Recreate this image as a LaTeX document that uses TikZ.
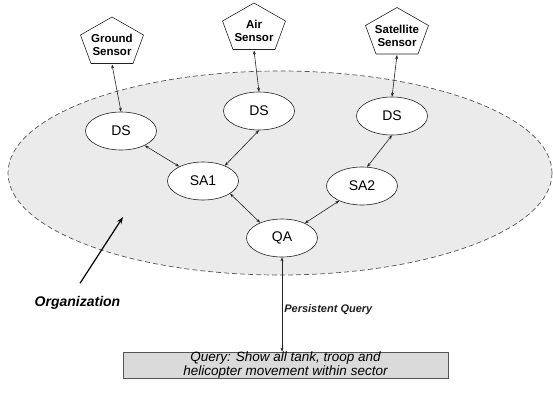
\documentclass[tikz,border=0pt]{standalone}
\usepackage{fontspec}
\setmainfont{Liberation Sans}
\usepackage{tikz}
\usetikzlibrary{arrows.meta,calc,positioning,shapes.geometric}
\definecolor{OrgFill}{HTML}{EBEBEB}
\definecolor{OrgEdge}{HTML}{555555}
\definecolor{QueryFill}{HTML}{DADADA}
\definecolor{LinkGray}{HTML}{222222}
\tikzset{
  agent/.style={ellipse,draw=LinkGray,fill=white,line width=0.6pt,minimum width=71pt,minimum height=38pt,inner sep=0pt,font=\fontsize{14}{16}\selectfont},
  sensor/.style={align=center,inner sep=0pt,font=\bfseries\fontsize{11.5}{13}\selectfont},
  penta/.style={draw=LinkGray,line width=0.6pt,line join=miter},
  link/.style={{Stealth[length=4pt,width=3pt]}-{Stealth[length=4pt,width=3pt]},line width=0.6pt,LinkGray},
  orgzone/.style={draw=OrgEdge,fill=OrgFill,line width=0.7pt,dash pattern=on 5pt off 3pt},
  querybox/.style={draw=OrgEdge,fill=QueryFill,line width=0.7pt,minimum width=325pt,minimum height=26pt,inner sep=0pt,align=center,font=\itshape\fontsize{13.5}{12}\selectfont},
}

\begin{document}
\begin{tikzpicture}[x=1pt,y=-1pt]
  \useasboundingbox (0,0) rectangle (553,392);
  % --- organization (dashed zone) ---
  \draw[orgzone] (280,173) ellipse [x radius=272, y radius=102];
  \node[font=\bfseries\itshape\fontsize{14}{16}\selectfont,inner sep=0pt] (org) at (77.5,303) {Organization};
  \coordinate (orgtip) at (123,217);
  \draw[-{Stealth[length=7pt,width=5pt]},line width=1.2pt,black] ([xshift=2.5pt,yshift=13pt]org.north) -- (orgtip);
  % --- sensors ---
  \node[sensor] (gs) at (112,45) {Ground\\Sensor};
  \node[sensor] (as) at (254,31) {Air\\Sensor};
  \node[sensor] (ss) at (397,35.5) {Satellite\\Sensor};
  \foreach \s in {gs,as,ss}{
    \draw[penta] ($(\s)+(0,-28)$) -- ($(\s)+(31.5,-10)$) -- ($(\s)+(21,18.5)$)
      -- ($(\s)+(-21,18.5)$) -- ($(\s)+(-31.5,-10)$) -- cycle;
    \coordinate (\s-b) at ($(\s)+(0,19.5)$);
  }
  % --- agents ---
  \node[agent] (ds1) at (121,131) {DS};
  \node[agent] (ds2) at (259,111) {DS};
  \node[agent] (ds3) at (392,116) {DS};
  \node[agent] (sa1) at (203,181) {SA1};
  \node[agent] (sa2) at (362,186) {SA2};
  \node[agent] (qa) at (282,238) {QA};
  % --- query ---
  \node[querybox] (query) at (285.5,365) {Query: Show all tank, troop and\\helicopter movement within sector};
  % --- links ---
  \draw[link] (gs-b) -- (ds1.north);
  \draw[link] (as-b) -- (ds2.north);
  \draw[link] (ss-b) -- (ds3.north);
  \draw[link] (ds1) -- (sa1);
  \draw[link] (ds2.south) -- (sa1.35);
  \draw[link] (ds3.south) -- (sa2.75);
  \draw[link] (sa1.-25) -- (qa.145);
  \draw[link] (qa) -- (sa2);
  \draw[link] (qa.south) -- node[pos=0.55,right,inner sep=2pt,font=\bfseries\itshape\fontsize{11}{13}\selectfont] (pq) {Persistent Query} (qa.south |- query.north);
\end{tikzpicture}
\end{document}
